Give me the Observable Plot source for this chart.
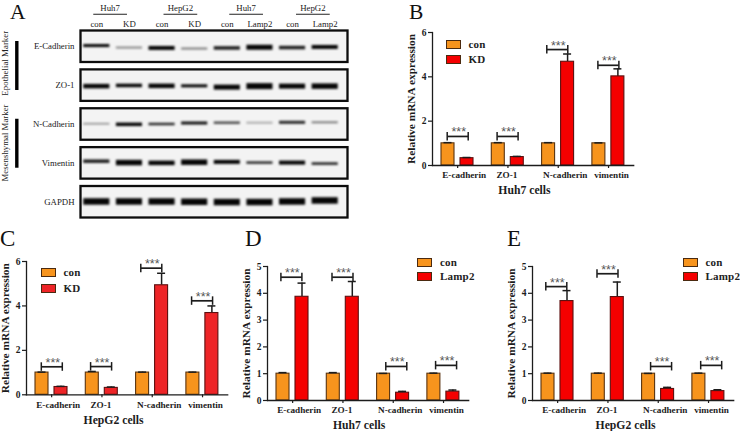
<!DOCTYPE html>
<html><head><meta charset="utf-8">
<script src="https://cdn.jsdelivr.net/npm/d3@7"></script>
<script src="https://cdn.jsdelivr.net/npm/@observablehq/plot@0.6"></script>
<style>
html,body{margin:0;padding:0;background:#fff;}
#page{position:relative;width:740px;height:431px;overflow:hidden;font-family:"Liberation Serif",serif;}
#page svg{position:absolute;background:none;overflow:visible;}
.letter{position:absolute;font-size:23px;line-height:20px;color:#111;}
.lg{position:absolute;font-weight:bold;font-size:11px;line-height:12px;color:#222;letter-spacing:.2px;}
.sw{position:absolute;width:13px;height:7px;border:1px solid #4a2a10;}
.blot g[aria-label="tick"] line{filter:blur(.8px);}
</style></head><body><div id="page"></div>
<script>
// Panel A – western blot
const proteins = ["E-Cadherin","ZO-1","N-Cadherin","Vimentin","GAPDH"];
const lanes = ["l1","l2","l3","l4","l5","l6","l7","l8"];
const laneLabels = ["con","KD","con","KD","con","Lamp2","con","Lamp2"];
const laneGroups = ["Huh7","HepG2","Huh7","HepG2"];
const groupShift = [-3,2,2.5,4];
const bandOpacity = [
  [1,.45,1,.5,.9,1,.9,1],
  [1,1,1,1,1,1,1,1],
  [.45,1,.85,.95,.7,.3,.85,.5],
  [.9,1,1,1,1,.85,1,.9],
  [1,1,1,1,1,1,1,1]];
const bandThick = [
  [3,2,4,2,3.5,5,3.5,4],
  [4.5,3.5,4.5,3,5,6,5,5.5],
  [1.5,3.5,2.5,3,2.5,2,3,2],
  [3.5,5.5,4.5,5.5,4,2.5,4,2.5],
  [6.5,6.5,6.5,6.5,6.5,6.5,6.5,6.5]];
const bandOffset = [
  [-.7,1.3,1.7,2.3,1.7,1,1.3,.7],
  [1,.3,.7,.7,2,1,1,1],
  [-.3,.3,0,-1,-1.3,-1.3,-1.7,-1.7],
  [-1.7,-.3,0,-.7,-1,-.3,-.3,.7],
  [-.3,-.3,-.3,0,.3,.3,-.3,-1.3]];

// Panels B–E – relative mRNA expression
const genes = ["E-cadherin","ZO-1","N-cadherin","vimentin"];
const geneLabelShift = [6.5,-1,7,3];
const stars = "***";
const ticks6 = [0,2,4,6];
const ticks5 = [0,1,2,3,4,5];

const conB = [1,1,1,1], conErrB = [1.03,1.03,1.03,1.02];
const kdB = [.33,.38,4.68,4.02], kdErrB = [.36,.41,5.03,4.36];
const sigB = [1.31,1.31,5.23,4.52], sigShiftB = [.2,-.2,-.8,0];

const conC = [1,1,1,1], conErrC = [1.02,1.05,1.02,1.02];
const kdC = [.35,.31,4.93,3.68], kdErrC = [.38,.35,5.47,4.0];
const sigC = [1.26,1.27,5.7,4.23], sigShiftC = [.3,-.7,-.8,-.3];

const conD = [1,1,1,1], conErrD = [1.04,1.04,1.01,1.02];
const lampD = [3.87,3.87,.29,.33], lampErrD = [4.38,4.44,.34,.39];
const sigD = [4.6,4.6,1.27,1.31], sigShiftD = [-1.1,-.3,3.2,2.7];

const conE = [1,1,1,1], conErrE = [1.02,1.02,1.01,1.02];
const lampE = [3.71,3.86,.43,.35], lampErrE = [4.1,4.42,.49,.4];
const sigE = [4.25,4.73,1.27,1.31], sigShiftE = [-1.2,-.3,3,2.8];

const page = document.getElementById("page");
const serif = "Liberation Serif";
const ink = "#1c1c1c";
const place = (svg,l,t)=>{svg.style.left=l+"px";svg.style.top=t+"px";page.appendChild(svg);};
const html = (cls,txt,l,t)=>{const e=document.createElement("div");e.className=cls;e.textContent=txt;e.style.left=l+"px";e.style.top=t+"px";page.appendChild(e);return e;};

// ---- blot
const blotRows = proteins.flatMap((p,r)=>lanes.map((l,c)=>({protein:p,lane:l,op:bandOpacity[r][c],th:bandThick[r][c],off:bandOffset[r][c]})));
const headRows = laneGroups.map((g,i)=>({g,a:lanes[i*2],b:lanes[i*2+1],shift:groupShift[i]}));
const top1 = ()=>proteins[0], third = ()=>proteins[2];
const blot = Plot.plot({
  className:"blot", width:350, height:220, marginLeft:80, marginRight:3, marginTop:30, marginBottom:3,
  style:{fontFamily:serif,color:"#222",background:"none"},
  x:{type:"band",domain:lanes,padding:.2,paddingOuter:.1,insetRight:6,round:false,axis:null},
  y:{domain:[-15.75,15.75],reverse:true,axis:null},
  fy:{domain:proteins,padding:.19,paddingOuter:0,round:false,axis:null},
  marks:[
    Plot.frame({fill:"#f3f3f3",stroke:"#0c0c0c",strokeWidth:2.3}),
    Plot.tickY(blotRows,{fy:"protein",x:"lane",y:"off",stroke:"#050505",strokeOpacity:"op",strokeWidth:"th"}),
    Plot.axisFy({anchor:"left",tickSize:0,tickPadding:6,fontSize:8.8,label:null}),
    Plot.axisX({anchor:"top",tickSize:0,tickPadding:4,fontSize:8.8,label:null,tickFormat:d=>laneLabels[lanes.indexOf(d)]}),
    ...headRows.map(h=>Plot.link([h],{fy:top1,x1:"a",x2:"b",y1:()=>-32,y2:()=>-32,dx:h.shift,stroke:"#222",strokeWidth:1.1,strokeLinecap:"square"})),
    ...headRows.map(h=>Plot.text([h],{fy:top1,x:"a",y:()=>-32,dx:16.3+h.shift,dy:-6,text:"g",fontSize:8.8})),
    Plot.ruleX(["Epothelial Marker"],{fy:top1,x:()=>lanes[0],y1:()=>-4.75,y2:()=>44.25,dx:-80,stroke:"#000",strokeWidth:3.4}),
    Plot.ruleX(["Mesenshymal Marker"],{fy:third,x:()=>lanes[0],y1:()=>-4.75,y2:()=>44.25,dx:-80,stroke:"#000",strokeWidth:3.4}),
    Plot.text(["Epothelial Marker"],{fy:top1,x:()=>lanes[0],y:()=>17,dx:-92,rotate:-90,text:d=>d,fontSize:8.9}),
    Plot.text(["Mesenshymal Marker"],{fy:third,x:()=>lanes[0],y:()=>19,dx:-92,rotate:-90,text:d=>d,fontSize:8.8})
  ]
});
place(blot,0,0);

// ---- bar panels
function panel(o){
  const other = o.other;
  const rows = genes.flatMap((g,i)=>[
    {gene:g,series:"con",value:o.con[i],err:o.conErr[i]},
    {gene:g,series:other,value:o.val[i],err:o.valErr[i]}]);
  const sig = genes.map((g,i)=>({gene:g,y:o.sig[i],shift:o.sigShift[i],a:"con",b:other}));
  const marks = [
    Plot.frame({anchor:"left",facet:"super",stroke:ink,strokeWidth:1.3}),
    Plot.ruleX(rows,{fx:"gene",x:"series",y1:"value",y2:"err",stroke:ink,strokeWidth:1.5}),
    Plot.barY(rows.filter(d=>d.series==="con"),{fx:"gene",x:"series",y:"value",fill:"#f7941d",stroke:"#5a3410",strokeWidth:1.1}),
    Plot.barY(rows.filter(d=>d.series!=="con"),{fx:"gene",x:"series",y:"value",fill:o.red,stroke:"#5c1010",strokeWidth:1.1}),
    Plot.tickY(rows,{fx:"gene",x:"series",y:"err",stroke:ink,strokeWidth:1.5,insetLeft:2.5,insetRight:2.5}),
    Plot.frame({anchor:"bottom",facet:"super",stroke:ink,strokeWidth:1.3}),
    Plot.axisY({anchor:"left",ticks:o.ticks,tickSize:4,tickPadding:2,fontSize:9.5,fontWeight:"bold",label:null,tickFormat:"d",strokeWidth:1.2}),
    Plot.axisFx({anchor:"bottom",tickSize:3,tickFormat:null,label:null,strokeWidth:1.2}),
    ...genes.map((g,i)=>Plot.text([g],{fx:d=>d,text:d=>d,frameAnchor:"bottom",dy:10,dx:geneLabelShift[i],fontSize:9.2,fontWeight:"bold",letterSpacing:.2,lineAnchor:"middle",fill:ink})),
    Plot.text([o.title],{facet:"super",text:d=>d,frameAnchor:"bottom",dy:25,dx:o.titleDx,fontSize:11.7,fontWeight:"bold",lineAnchor:"middle",fill:ink}),
    Plot.text(["Relative mRNA expression"],{facet:"super",text:d=>d,frameAnchor:"left",rotate:-90,dx:-21,textAnchor:"middle",fontSize:11.4,fontWeight:"bold",fill:ink}),
    ...sig.flatMap(s=>[
      Plot.link([s],{fx:"gene",x1:"a",x2:"b",y1:"y",y2:"y",dx:s.shift,stroke:ink,strokeWidth:1.7,strokeLinecap:"square"}),
      Plot.ruleX([s],{fx:"gene",x:"a",y1:"y",y2:"y",insetTop:-4,insetBottom:-4.5,dx:s.shift-1,stroke:ink,strokeWidth:1.5}),
      Plot.ruleX([s],{fx:"gene",x:"b",y1:"y",y2:"y",insetTop:-4,insetBottom:-4.5,dx:s.shift+1,stroke:ink,strokeWidth:1.5}),
      Plot.text([s],{fx:"gene",x:"a",y:"y",text:()=>stars,dx:s.shift+10.5,dy:-4,fontSize:12.5,fontFamily:"Liberation Sans",fill:"#555",letterSpacing:1})
    ])
  ];
  const svg = Plot.plot({
    width:34+201.2+(o.extra||0)+4, height:10+o.h+34,
    marginLeft:34, marginRight:4, marginTop:10, marginBottom:34,
    style:{fontFamily:serif,color:ink,background:"none"},
    fx:{domain:genes,padding:0,round:false,insetRight:o.extra||0,axis:null},
    x:{type:"band",domain:["con",other],padding:.316,paddingOuter:0,insetLeft:9,insetRight:9.3,round:false,axis:null},
    y:{domain:[0,o.max],axis:null},
    marks
  });
  place(svg,o.ax-34,o.top-10);
  // legend
  [["con","#f7941d",0],[other,o.red,o.lgStep]].forEach(([t,c,dy])=>{
    const s=html("sw","",o.lgX,o.lgY+dy); s.style.background=c;
    html("lg",t,o.lgX+23,o.lgY+dy-2);
  });
}
const red="#f50000";
panel({other:"KD",con:conB,conErr:conErrB,val:kdB,valErr:kdErrB,sig:sigB,sigShift:sigShiftB,max:6,ticks:ticks6,ax:432,top:32,h:133,title:"Huh7 cells",titleDx:-8.6,red,lgX:445.5,lgY:40,lgStep:15});
panel({other:"KD",con:conC,conErr:conErrC,val:kdC,valErr:kdErrC,sig:sigC,sigShift:sigShiftC,max:6,ticks:ticks6,ax:26,top:260.7,h:133.3,title:"HepG2 cells",titleDx:-13.5,red:"#ee2427",lgX:40.5,lgY:268,lgStep:15.5,extra:10});
panel({other:"Lamp2",con:conD,conErr:conErrD,val:lampD,valErr:lampErrD,sig:sigD,sigShift:sigShiftD,max:5,ticks:ticks5,ax:267,top:266,h:134,title:"Huh7 cells",titleDx:-9,red,lgX:417,lgY:258,lgStep:14});
panel({other:"Lamp2",con:conE,conErr:conErrE,val:lampE,valErr:lampErrE,sig:sigE,sigShift:sigShiftE,max:5,ticks:ticks5,ax:532,top:266,h:134,title:"HepG2 cells",titleDx:-7.5,red,lgX:682.5,lgY:258,lgStep:14,extra:2});

[["C",0,229],["D",245,229],["E",507,229]].forEach(([t,l,tp])=>html("letter",t,l,tp));
[["A",10,0],["B",409,0]].forEach(([t,l,tp])=>{const e=html("letter",t,l,tp);e.style.fontSize="21.5px";e.style.lineHeight="24px";});
</script></body></html>
